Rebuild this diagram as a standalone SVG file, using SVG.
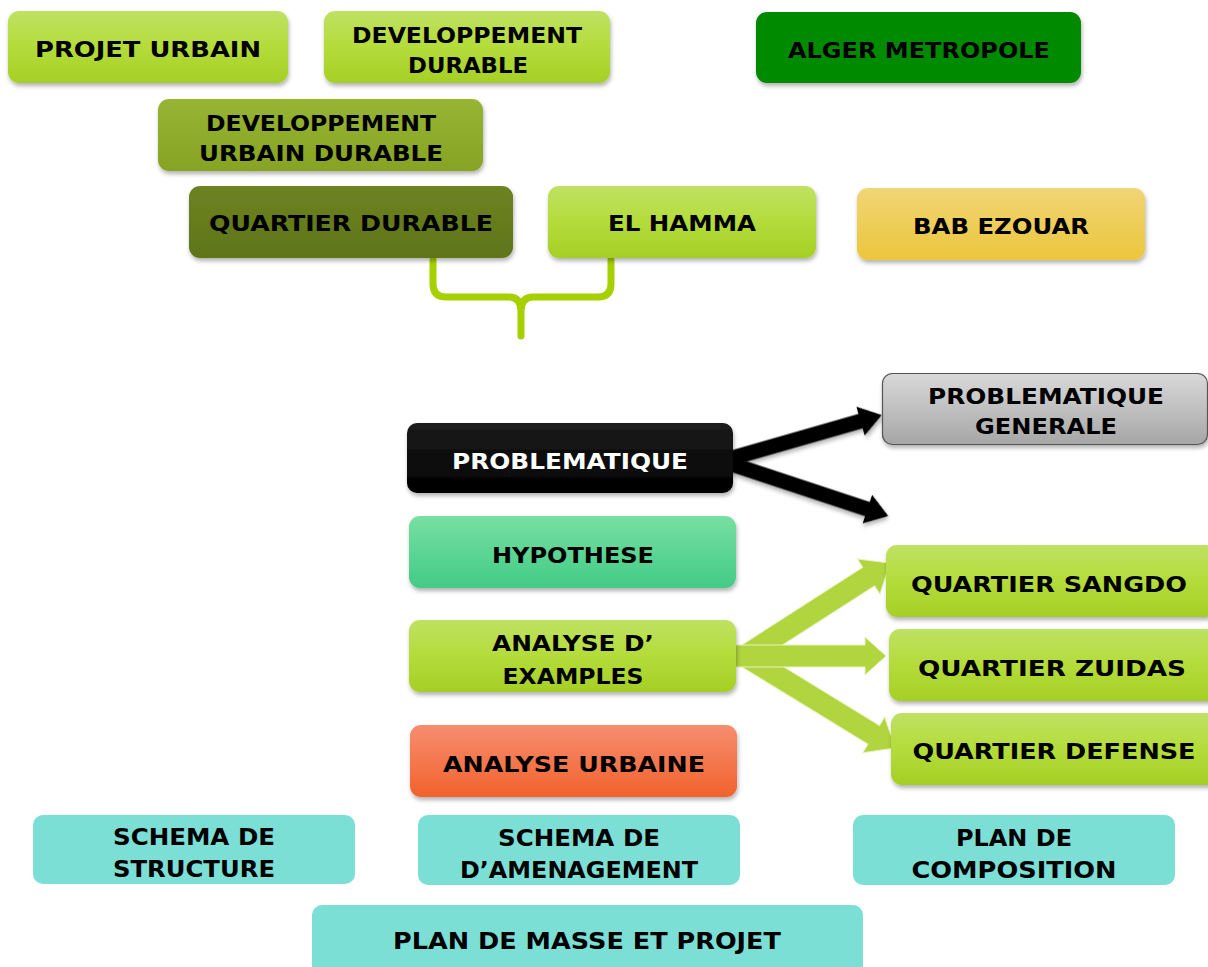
<svg xmlns="http://www.w3.org/2000/svg" width="1208" height="967" viewBox="0 0 1208 967">
<defs>
  <linearGradient id="gLime" x1="0" y1="0" x2="0" y2="1">
    <stop offset="0" stop-color="#bfe163"/><stop offset="0.5" stop-color="#b4dc3a"/><stop offset="1" stop-color="#a5cf25"/>
  </linearGradient>
  <linearGradient id="gOlive" x1="0" y1="0" x2="0" y2="1">
    <stop offset="0" stop-color="#97b434"/><stop offset="1" stop-color="#86a323"/>
  </linearGradient>
  <linearGradient id="gDarkOlive" x1="0" y1="0" x2="0" y2="1">
    <stop offset="0" stop-color="#6d8322"/><stop offset="1" stop-color="#5f7519"/>
  </linearGradient>
  <linearGradient id="gYellow" x1="0" y1="0" x2="0" y2="1">
    <stop offset="0" stop-color="#f0d576"/><stop offset="1" stop-color="#ecc63c"/>
  </linearGradient>
  <linearGradient id="gGray" x1="0" y1="0" x2="0" y2="1">
    <stop offset="0" stop-color="#d9d9d9"/><stop offset="1" stop-color="#a6a6a6"/>
  </linearGradient>
  <linearGradient id="gBlack" x1="0" y1="0" x2="0" y2="1">
    <stop offset="0" stop-color="#1c1c1c"/><stop offset="1" stop-color="#000"/>
  </linearGradient>
  <linearGradient id="gHyp" x1="0" y1="0" x2="0" y2="1">
    <stop offset="0" stop-color="#77dfa2"/><stop offset="1" stop-color="#43cb86"/>
  </linearGradient>
  <linearGradient id="gOrange" x1="0" y1="0" x2="0" y2="1">
    <stop offset="0" stop-color="#f68d70"/><stop offset="1" stop-color="#f2622c"/>
  </linearGradient>
  <filter id="shadow" x="-10%" y="-20%" width="120%" height="150%">
    <feDropShadow dx="1" dy="3" stdDeviation="2" flood-color="#000" flood-opacity="0.3"/>
  </filter>
</defs>
<style>
  .t { font-family: "DejaVu Sans", "Liberation Sans", sans-serif; font-weight: bold; font-size: 21px; fill: #000; text-anchor: middle; }
  .tb { font-family: "DejaVu Sans", "Liberation Sans", sans-serif; font-weight: bold; font-size: 23px; fill: #000; text-anchor: middle; }
  .w { fill: #fff; }
  .box { filter: url(#shadow); }
  .lime { fill: url(#gLime); }
  .teal { fill: #7bdfd5; }
  .garrow { fill: #b1d53e; stroke: #e6f3c0; stroke-width: 1; }
  .barrow { fill: #000; filter: url(#shadow); }
</style>

<g id="connectors">
  <path id="brace" d="M433,260 L433,284 Q433,297 446,297 L509,297 Q521,297 521,311 L521,336 M521,311 Q521,297 533,297 L598,297 Q611,297 611,284 L611,260" fill="none" stroke="#a7d000" stroke-width="7" stroke-linecap="round" stroke-linejoin="round"/>
  <polygon class="barrow" transform="translate(725,460) rotate(-16)" points="0,-7.5 141,-7.5 141,-15 163,0 141,15 141,7.5 0,7.5"/>
  <polygon class="barrow" transform="translate(725,462) rotate(18.3)" points="0,-7.5 150,-7.5 150,-15 172,0 150,15 150,7.5 0,7.5"/>
  <polygon class="garrow" transform="translate(745,656) rotate(-32.7)" points="0,-11 147,-11 147,-21 172,0 147,21 147,11 0,11"/>
  <polygon class="garrow" transform="translate(745,656) rotate(31.5)" points="0,-11 151,-11 151,-21 176,0 151,21 151,11 0,11"/>
  <polygon class="garrow" transform="translate(725,656)" points="0,-11 140,-11 140,-19 161,0 140,19 140,11 0,11"/>
</g>

<g id="projet-urbain">
  <rect class="box lime" x="8" y="11" width="280" height="72" rx="11"/>
  <text class="t" x="148" y="57" textLength="226" lengthAdjust="spacingAndGlyphs">PROJET URBAIN</text>
</g>
<g id="developpement-durable">
  <rect class="box lime" x="324" y="11" width="286" height="72" rx="11"/>
  <text class="t" x="467" y="43" textLength="230" lengthAdjust="spacingAndGlyphs">DEVELOPPEMENT</text>
  <text class="t" x="468" y="73" textLength="120" lengthAdjust="spacingAndGlyphs">DURABLE</text>
</g>
<g id="alger-metropole">
  <rect class="box" x="756" y="12" width="325" height="71" rx="11" fill="#058a05"/>
  <text class="t" x="919" y="58" textLength="262" lengthAdjust="spacingAndGlyphs">ALGER METROPOLE</text>
</g>
<g id="developpement-urbain-durable">
  <rect class="box" x="158" y="99" width="325" height="72" rx="11" fill="url(#gOlive)"/>
  <text class="t" x="321" y="131" textLength="230" lengthAdjust="spacingAndGlyphs">DEVELOPPEMENT</text>
  <text class="t" x="321" y="161" textLength="244" lengthAdjust="spacingAndGlyphs">URBAIN DURABLE</text>
</g>
<g id="quartier-durable">
  <rect class="box" x="189" y="186" width="324" height="72" rx="11" fill="url(#gDarkOlive)"/>
  <text class="t" x="351" y="231" textLength="284" lengthAdjust="spacingAndGlyphs">QUARTIER DURABLE</text>
</g>
<g id="el-hamma">
  <rect class="box lime" x="548" y="186" width="268" height="72" rx="11"/>
  <text class="t" x="682" y="231" textLength="148" lengthAdjust="spacingAndGlyphs">EL HAMMA</text>
</g>
<g id="bab-ezouar">
  <rect class="box" x="857" y="188" width="288" height="72" rx="11" fill="url(#gYellow)"/>
  <text class="t" x="1001" y="234" textLength="176" lengthAdjust="spacingAndGlyphs">BAB EZOUAR</text>
</g>

<g id="problematique">
  <rect class="box" x="407" y="423" width="326" height="70" rx="10" fill="url(#gBlack)"/>
  <text class="t w" x="570" y="469" textLength="236" lengthAdjust="spacingAndGlyphs">PROBLEMATIQUE</text>
</g>
<g id="problematique-generale">
  <rect class="box" x="882.5" y="373.5" width="325" height="71" rx="10" fill="url(#gGray)" stroke="#555" stroke-width="1.2"/>
  <text class="t" x="1046" y="404" textLength="236" lengthAdjust="spacingAndGlyphs">PROBLEMATIQUE</text>
  <text class="t" x="1046" y="434" textLength="142" lengthAdjust="spacingAndGlyphs">GENERALE</text>
</g>
<g id="hypothese">
  <rect class="box" x="409" y="516" width="327" height="72" rx="11" fill="url(#gHyp)"/>
  <text class="t" x="573" y="563" textLength="162" lengthAdjust="spacingAndGlyphs">HYPOTHESE</text>
</g>
<g id="analyse-examples">
  <rect class="box lime" x="409" y="620" width="327" height="72" rx="11"/>
  <text class="t" x="573" y="651" textLength="162" lengthAdjust="spacingAndGlyphs">ANALYSE D’</text>
  <text class="t" x="573" y="684" textLength="141" lengthAdjust="spacingAndGlyphs">EXAMPLES</text>
</g>
<g id="analyse-urbaine">
  <rect class="box" x="410" y="725" width="327" height="72" rx="11" fill="url(#gOrange)"/>
  <text class="t" x="574" y="772" textLength="262" lengthAdjust="spacingAndGlyphs">ANALYSE URBAINE</text>
</g>
<g id="quartier-sangdo">
  <rect class="box lime" x="886" y="545" width="330" height="72" rx="11"/>
  <text class="t" x="1049" y="592" textLength="276" lengthAdjust="spacingAndGlyphs">QUARTIER SANGDO</text>
</g>
<g id="quartier-zuidas">
  <rect class="box lime" x="889" y="629" width="330" height="72" rx="11"/>
  <text class="t" x="1052" y="676" textLength="268" lengthAdjust="spacingAndGlyphs">QUARTIER ZUIDAS</text>
</g>
<g id="quartier-defense">
  <rect class="box lime" x="891" y="713" width="330" height="72" rx="11"/>
  <text class="t" x="1054" y="759" textLength="283" lengthAdjust="spacingAndGlyphs">QUARTIER DEFENSE</text>
</g>

<g id="schema-structure">
  <rect class="teal" x="33" y="815" width="322" height="69" rx="10"/>
  <text class="tb" x="194" y="845" textLength="162" lengthAdjust="spacingAndGlyphs">SCHEMA DE</text>
  <text class="tb" x="194" y="877" textLength="162" lengthAdjust="spacingAndGlyphs">STRUCTURE</text>
</g>
<g id="schema-amenagement">
  <rect class="teal" x="418" y="815" width="322" height="70" rx="10"/>
  <text class="tb" x="579" y="846" textLength="162" lengthAdjust="spacingAndGlyphs">SCHEMA DE</text>
  <text class="tb" x="579" y="878" textLength="238" lengthAdjust="spacingAndGlyphs">D’AMENAGEMENT</text>
</g>
<g id="plan-composition">
  <rect class="teal" x="853" y="815" width="322" height="70" rx="10"/>
  <text class="tb" x="1014" y="846" textLength="116" lengthAdjust="spacingAndGlyphs">PLAN DE</text>
  <text class="tb" x="1014" y="878" textLength="205" lengthAdjust="spacingAndGlyphs">COMPOSITION</text>
</g>
<g id="plan-masse">
  <rect class="teal" x="312" y="905" width="551" height="80" rx="10"/>
  <text class="tb" x="587" y="949" textLength="388" lengthAdjust="spacingAndGlyphs">PLAN DE MASSE ET PROJET</text>
</g>
</svg>
